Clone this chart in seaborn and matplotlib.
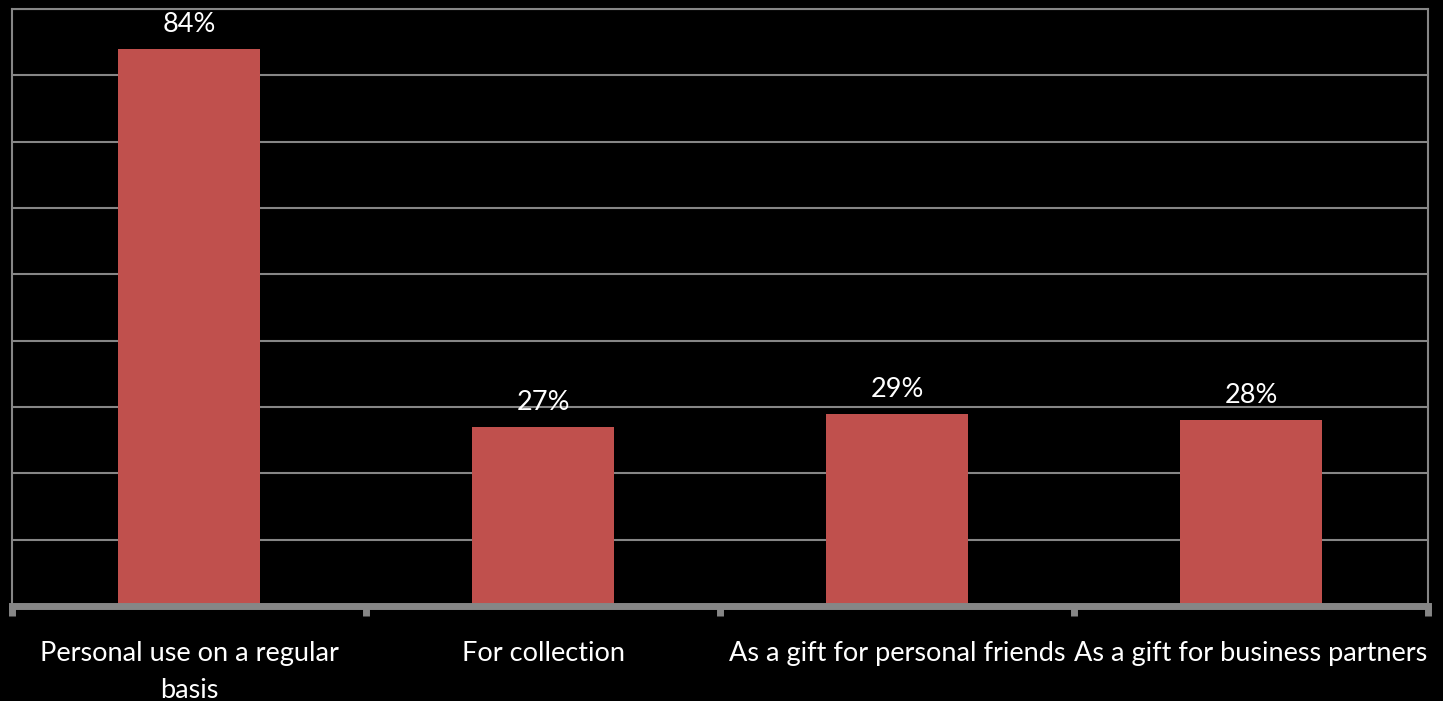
import matplotlib
matplotlib.use("Agg")
import matplotlib.pyplot as plt
import seaborn as sns
import pandas as pd

categories = ["Personal use on a regular\nbasis", "For collection",
              "As a gift for personal friends", "As a gift for business partners"]
shares = [0.84, 0.27, 0.29, 0.28]
share_labels = ["84%", "27%", "29%", "28%"]

sns.set_theme(style="dark")
plt.rcParams["font.family"] = ["Lato", "DejaVu Sans"]

grid_col = "#868686"
bar_col = "#C0504D"

fig = plt.figure(figsize=(14.43, 7.01), dpi=100, facecolor="black")
ax = fig.add_axes([12 / 1443, 95 / 701, 1416 / 1443, 597 / 701])
ax.set_facecolor("black")

df = pd.DataFrame({"category": categories, "share": shares})
sns.barplot(data=df, x="category", y="share", color=bar_col, saturation=1,
            width=0.4, edgecolor="none", linewidth=0, ax=ax)

ax.set_ylim(0, 0.9)
ax.set_xlim(-0.5, len(categories) - 0.5)
ax.set_yticks([i / 10 for i in range(10)])
ax.set_yticklabels([])
ax.tick_params(axis="y", length=0)
ax.yaxis.grid(True, color=grid_col, linewidth=1.5)
ax.xaxis.grid(False)
ax.set_axisbelow(True)

# category boundary ticks on the x axis
ax.set_xticks([i - 0.5 for i in range(len(categories) + 1)], minor=False)
ax.set_xticklabels([])
ax.tick_params(axis="x", which="major", bottom=True, length=7, width=5,
               color=grid_col, direction="out")
ax.set_xticks(range(len(categories)), minor=True)
ax.set_xticklabels(categories, minor=True, color="white", fontsize=19.5,
                   linespacing=1.6)
ax.tick_params(axis="x", which="minor", bottom=True, length=0, pad=25)

for s in ["left", "top", "right"]:
    ax.spines[s].set_color(grid_col)
    ax.spines[s].set_linewidth(1.5)
ax.spines["bottom"].set_color(grid_col)
ax.spines["bottom"].set_linewidth(5)

ax.set_xlabel("")
ax.set_ylabel("")

for i, (v, lab) in enumerate(zip(shares, share_labels)):
    ax.annotate(lab, (i, v), xytext=(0, 8.5), textcoords="offset points",
                ha="center", va="bottom", color="white", fontsize=19.5)

fig.savefig("out.png", dpi=100, facecolor="black")
